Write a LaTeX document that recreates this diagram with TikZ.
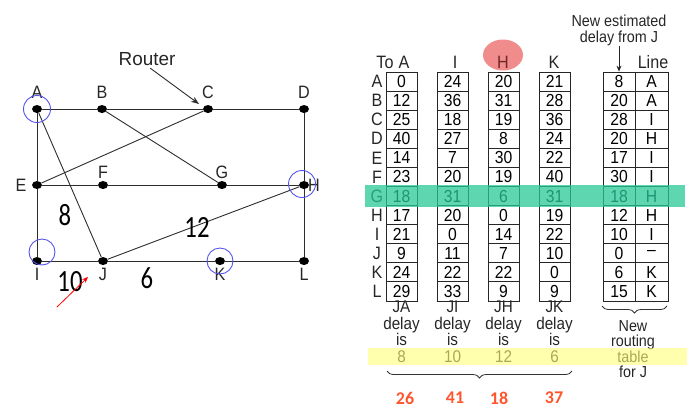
\documentclass[tikz,border=0pt]{standalone}
\usepackage{fontspec}
\setmainfont{Liberation Sans}
\newfontfamily\tabf[FakeStretch=0.9]{Liberation Sans}
\newfontfamily\numf[FakeStretch=0.8]{Carlito}
\newfontfamily\redf{Carlito}
\usetikzlibrary{shapes.geometric,decorations.pathreplacing,arrows.meta}
\definecolor{edgec}{RGB}{45,45,45}
\definecolor{ringc}{RGB}{85,85,235}
\definecolor{pinkc}{RGB}{240,140,140}
\definecolor{bandg}{RGB}{40,200,150}
\definecolor{bandy}{RGB}{255,255,120}
\definecolor{redn}{RGB}{255,85,45}
\definecolor{hdark}{RGB}{110,40,40}
\begin{document}
\begin{tikzpicture}[x=1bp,y=-1bp,
  edge/.style={draw=edgec, line width=0.9bp},
  dot/.style={ellipse, fill=black, minimum width=10bp, minimum height=8bp, inner sep=0},
  lab/.style={inner sep=0, font=\fontsize{18}{18}\selectfont\tabf, text=black!85},
  ring/.style={circle, draw=ringc, line width=0.9bp, minimum size=27bp, inner sep=0},
  wnum/.style={inner sep=0, font=\fontsize{31}{31}\selectfont\numf, text=black},
  cell/.style={draw=black!85, line width=0.8bp, minimum width=31bp, minimum height=19.08bp, inner sep=0, font=\fontsize{17.5}{17.5}\selectfont\tabf},
  under/.style={anchor=north, align=center, inner sep=0, font=\fontsize{17}{16.5}\selectfont\tabf, text=black!85},
  rednum/.style={inner sep=0, font=\fontsize{18}{18}\selectfont\redf\bfseries, text=redn},
  brc/.style={decorate, decoration={brace, mirror, amplitude=7bp}, draw=black!80, line width=0.8bp}
]
\useasboundingbox (0,0) rectangle (694,417);

% ---------- graph ----------
\node[dot] (A) at (37,109) {};
\node[dot] (B) at (102,109) {};
\node[dot] (C) at (208,109) {};
\node[dot] (D) at (304,109) {};
\node[dot] (E) at (37,185) {};
\node[dot] (F) at (103,185) {};
\node[dot] (G) at (222,185) {};
\node[dot] (H) at (304,185) {};
\node[dot] (I) at (37,261) {};
\node[dot] (J) at (103,261) {};
\node[dot] (K) at (220,261) {};
\node[dot] (L) at (304,261) {};

\draw[edge] (A) -- (B);
\draw[edge] (B) -- (C);
\draw[edge] (C) -- (D);
\draw[edge] (A) -- (E);
\draw[edge] (E) -- (I);
\draw[edge] (D) -- (H);
\draw[edge] (H) -- (L);
\draw[edge] (E) -- (F);
\draw[edge] (F) -- (G);
\draw[edge] (G) -- (H);
\draw[edge] (I) -- (J);
\draw[edge] (J) -- (K);
\draw[edge] (K) -- (L);
\draw[edge] (B) -- (G);
\draw[edge] (C) -- (E);
\draw[edge] (A) -- (J);
\draw[edge] (J) -- (H);

\node[lab] (lA) at (37,92) {A};
\node[lab] (lB) at (102,92) {B};
\node[lab] (lC) at (208,92) {C};
\node[lab] (lD) at (304,92) {D};
\node[lab] (lE) at (21,185) {E};
\node[lab] (lF) at (103,172) {F};
\node[lab] (lG) at (222,172) {G};
\node[lab] (lH) at (314,185) {H};
\node[lab] (lI) at (37,274) {I};
\node[lab] (lJ) at (103,274) {J};
\node[lab] (lK) at (220,274) {K};
\node[lab] (lL) at (304,274) {L};

\node[ring] (rA) at (37,109) {};
\node[ring, minimum size=26bp] (rI) at (42,252) {};
\node[ring, minimum size=26bp] (rK) at (220,261) {};
\node[ring] (rH) at (302,184) {};

\node[inner sep=0, font=\fontsize{19}{19}\selectfont, text=black!85] (router) at (147,59) {Router};
\coordinate (ctip) at (199,104);
\draw[draw=edgec, line width=0.9bp, -{Stealth[length=8bp,width=6bp]}, shorten <=4bp] (router.south) -- (ctip);

\node[wnum] (n8) at (65,215) {8};
\node[wnum] (n12) at (197,227) {12};
\node[wnum] (n10) at (70,282) {10};
\node[wnum] (n6) at (147,278) {6};

\coordinate (rs) at (57,307);
\coordinate (re) at (88,277);
\draw[draw=red, line width=0.8bp, -{Stealth[length=6bp,width=5bp]}] (rs) -- (re);

% ---------- table ----------
\node[ellipse, fill=pinkc, minimum width=40bp, minimum height=31bp, inner sep=0] (hpink) at (503,55) {};
\node[lab] (hTo) at (385,62) {To};
\node[lab] (hA) at (404,62) {A};
\node[lab] (hI) at (455,62) {I};
\node[lab, text=hdark] (hH) at (503,62) {H};
\node[lab] (hK) at (554,62) {K};
\node[lab] (hLine) at (653,62) {Line};

\foreach \r [count=\i] in {A,B,C,D,E,F,G,H,I,J,K,L}
  \node[lab] (row\i) at (377,{72+(\i-0.5)*19.08}) {\r};

\foreach \v [count=\i] in {0,12,25,40,14,23,18,17,21,9,24,29}
  \node[cell] (a\i) at (401.5,{72+(\i-0.5)*19.08}) {\v};
\foreach \v [count=\i] in {24,36,18,27,7,20,31,20,0,11,22,33}
  \node[cell] (i\i) at (452.5,{72+(\i-0.5)*19.08}) {\v};
\foreach \v [count=\i] in {20,31,19,8,30,19,6,0,14,7,22,9}
  \node[cell] (h\i) at (503.5,{72+(\i-0.5)*19.08}) {\v};
\foreach \v [count=\i] in {21,28,36,24,22,40,31,19,22,10,0,9}
  \node[cell] (k\i) at (554.5,{72+(\i-0.5)*19.08}) {\v};
\foreach \v [count=\i] in {8,20,28,20,17,30,18,12,10,0,6,15}
  \node[cell, minimum width=32bp] (n\i) at (619,{72+(\i-0.5)*19.08}) {\v};
\foreach \v [count=\i] in {A,A,I,H,I,I,H,H,I,\textendash,K,K}
  \node[cell, minimum width=33bp] (l\i) at (651.5,{72+(\i-0.5)*19.08}) {\v};

\node[inner sep=0, align=center, font=\fontsize{16}{16}\selectfont\tabf, text=black!85] (nest) at (619,30) {New estimated\\delay from J};
\draw[draw=black!85, line width=0.9bp, -{Stealth[length=6bp,width=5bp]}] (nest.south) -- (n1.north);

% green band over row G
\fill[bandg, opacity=0.75] (365,185) rectangle (685,207);

% under the columns
\node[under] (ua) at (401.5,301) {JA\\delay\\is\\8};
\node[under] (ui) at (452.5,301) {JI\\delay\\is\\10};
\node[under] (uh) at (503.5,301) {JH\\delay\\is\\12};
\node[under] (uk) at (554.5,301) {JK\\delay\\is\\6};
\node[under, font=\fontsize{16}{15.5}\selectfont\tabf] (unew) at (633,320) {New\\routing\\table\\for J};

\fill[bandy, opacity=0.6] (368,348) rectangle (687,365);

\coordinate (b1s) at (387,371);
\coordinate (b1e) at (572,371);
\draw[brc] (b1s) -- (b1e);
\coordinate (b2s) at (602,306);
\coordinate (b2e) at (667,306);
\draw[brc] (b2s) -- (b2e);

\node[rednum] (r26) at (405,398) {26};
\node[rednum] (r41) at (455,398) {41};
\node[rednum] (r18) at (499,398) {18};
\node[rednum] (r37) at (554,398) {37};
\end{tikzpicture}
\end{document}
